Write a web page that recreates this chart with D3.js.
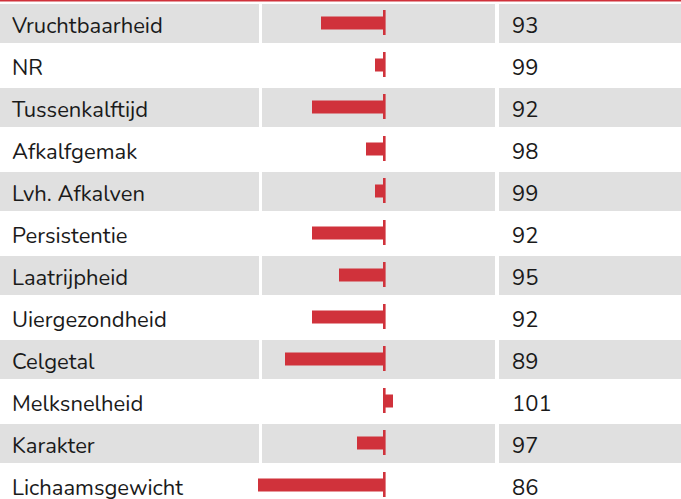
<!DOCTYPE html>
<html>
<head>
<meta charset="utf-8">
<script src="https://cdn.jsdelivr.net/npm/d3@7"></script>
<style>
  body { margin: 0; background: #fff; }
  text { font-family: Nunito, Lato, "Noto Sans", sans-serif; fill: #1a1a1a; }
</style>
</head>
<body>
<script>
var width = 681,
    height = 499;

// kenmerken en indexen (100 = gemiddeld)
var labels = ["Vruchtbaarheid", "NR", "Tussenkalftijd", "Afkalfgemak", "Lvh. Afkalven",
              "Persistentie", "Laatrijpheid", "Uiergezondheid", "Celgetal",
              "Melksnelheid", "Karakter", "Lichaamsgewicht"];
var values = [93, 99, 92, 98, 99, 92, 95, 92, 89, 101, 97, 86];
var baseline = 100;

var rows = labels.map(function(d, i) { return {label: d, value: values[i], i: i}; });

var svg = d3.select("body").append("svg")
    .attr("width", width)
    .attr("height", height);

var y = d3.scaleBand().domain(labels).range([4, 4 + 42 * 12 - 3]).paddingInner(3 / 42).paddingOuter(0);
var x = d3.scaleLinear().domain([86, 101]).range([258, 393]);

// kolommen: naam, balk, waarde
var cols = [[0, 259], [262, 495], [499, 681]];

//top border
svg.append("rect")
    .attr("x", 0).attr("y", 0)
    .attr("width", width).attr("height", 1.5)
    .attr("fill", "#d0323b");

var row = svg.selectAll("g.row")
    .data(rows)
    .enter().append("g")
    .attr("class", "row")
    .attr("transform", function(d) { return "translate(0," + y(d.label) + ")"; });

//grey background on every other row
row.filter(function(d) { return d.i % 2 == 0; })
    .selectAll("rect.bg")
    .data(cols)
    .enter().append("rect")
    .attr("class", "bg")
    .attr("x", function(c) { return c[0]; })
    .attr("width", function(c) { return c[1] - c[0]; })
    .attr("y", 0)
    .attr("height", y.bandwidth())
    .attr("fill", "#e0e0e0");

var bh = y.bandwidth();

row.append("rect")
    .attr("x", function(d) { return Math.min(x(d.value), x(baseline)); })
    .attr("width", function(d) { return Math.abs(x(d.value) - x(baseline)); })
    .attr("y", bh / 2 - 7)
    .attr("height", 13)
    .attr("fill", "#d0323b");

row.append("rect")
    .attr("x", x(baseline) - 1)
    .attr("width", 2.6)
    .attr("y", 6)
    .attr("height", 25)
    .attr("fill", "#d0323b");

row.append("text")
    .attr("x", 12)
    .attr("y", bh / 2 + 9)
    .style("font-size", "22px")
    .text(function(d) { return d.label; });

row.append("text")
    .attr("x", 512)
    .attr("y", bh / 2 + 9)
    .style("font-size", "22px")
    .text(function(d) { return d.value; });
</script>
</body>
</html>
